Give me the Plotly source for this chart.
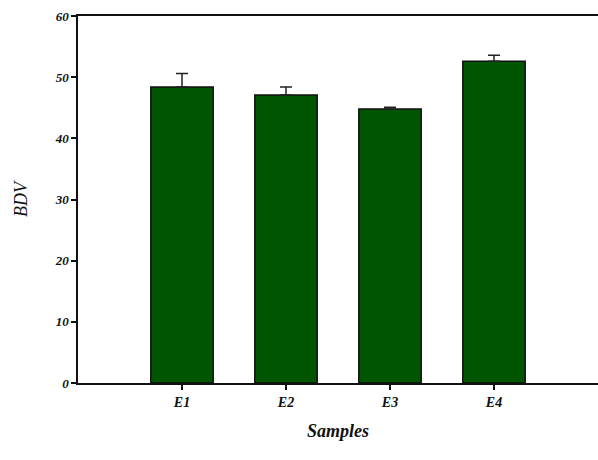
import plotly.graph_objects as go

samples = ["E1", "E2", "E3", "E4"]
bdv = [48.4, 47.1, 44.8, 52.6]
err = [2.2, 1.3, 0.3, 1.0]
y_ticks = [0, 10, 20, 30, 40, 50, 60]

fig = go.Figure()
fig.add_trace(go.Bar(
    x=list(range(len(samples))),
    y=bdv,
    width=0.6,
    marker=dict(color="#005500", line=dict(color="#111111", width=1.5)),
    error_y=dict(type="data", array=err, arrayminus=[0]*len(err), symmetric=False,
                 color="#222222", thickness=1.5, width=6),
))

font_it = dict(family="Liberation Serif", color="#111111")
fig.update_layout(
    width=598, height=460,
    margin=dict(l=78, r=0, t=16, b=77),
    plot_bgcolor="white", paper_bgcolor="white",
    showlegend=False,
    xaxis=dict(range=[-1, 4], tickvals=list(range(len(samples))),
               ticktext=[f"<b><i>{s}</i></b>" for s in samples],
               tickfont=dict(size=14, **font_it),
               showline=True, linecolor="#111111", linewidth=1.5, mirror=True,
               ticks="outside", ticklen=5, tickcolor="#111111", tickwidth=1.5,
               showgrid=False, zeroline=False,
               title=dict(text="<b><i>Samples</i></b>", font=dict(size=18, **font_it), standoff=16)),
    yaxis=dict(range=[0, 60], tickvals=y_ticks,
               ticktext=[f"<b><i>{v}</i></b>" for v in y_ticks],
               tickfont=dict(size=13, **font_it),
               showline=True, linecolor="#111111", linewidth=1.5,
               ticks="outside", ticklen=5, tickcolor="#111111", tickwidth=1.5,
               showgrid=False, zeroline=False,
               title=dict(text="<i>BDV</i>", font=dict(size=18, **font_it), standoff=22)),
)
fig.write_html("out.html", config={"displayModeBar": False},
               post_script="document.body.style.margin='0';document.body.style.overflow='hidden';"
                           "document.documentElement.style.overflow='hidden';")
